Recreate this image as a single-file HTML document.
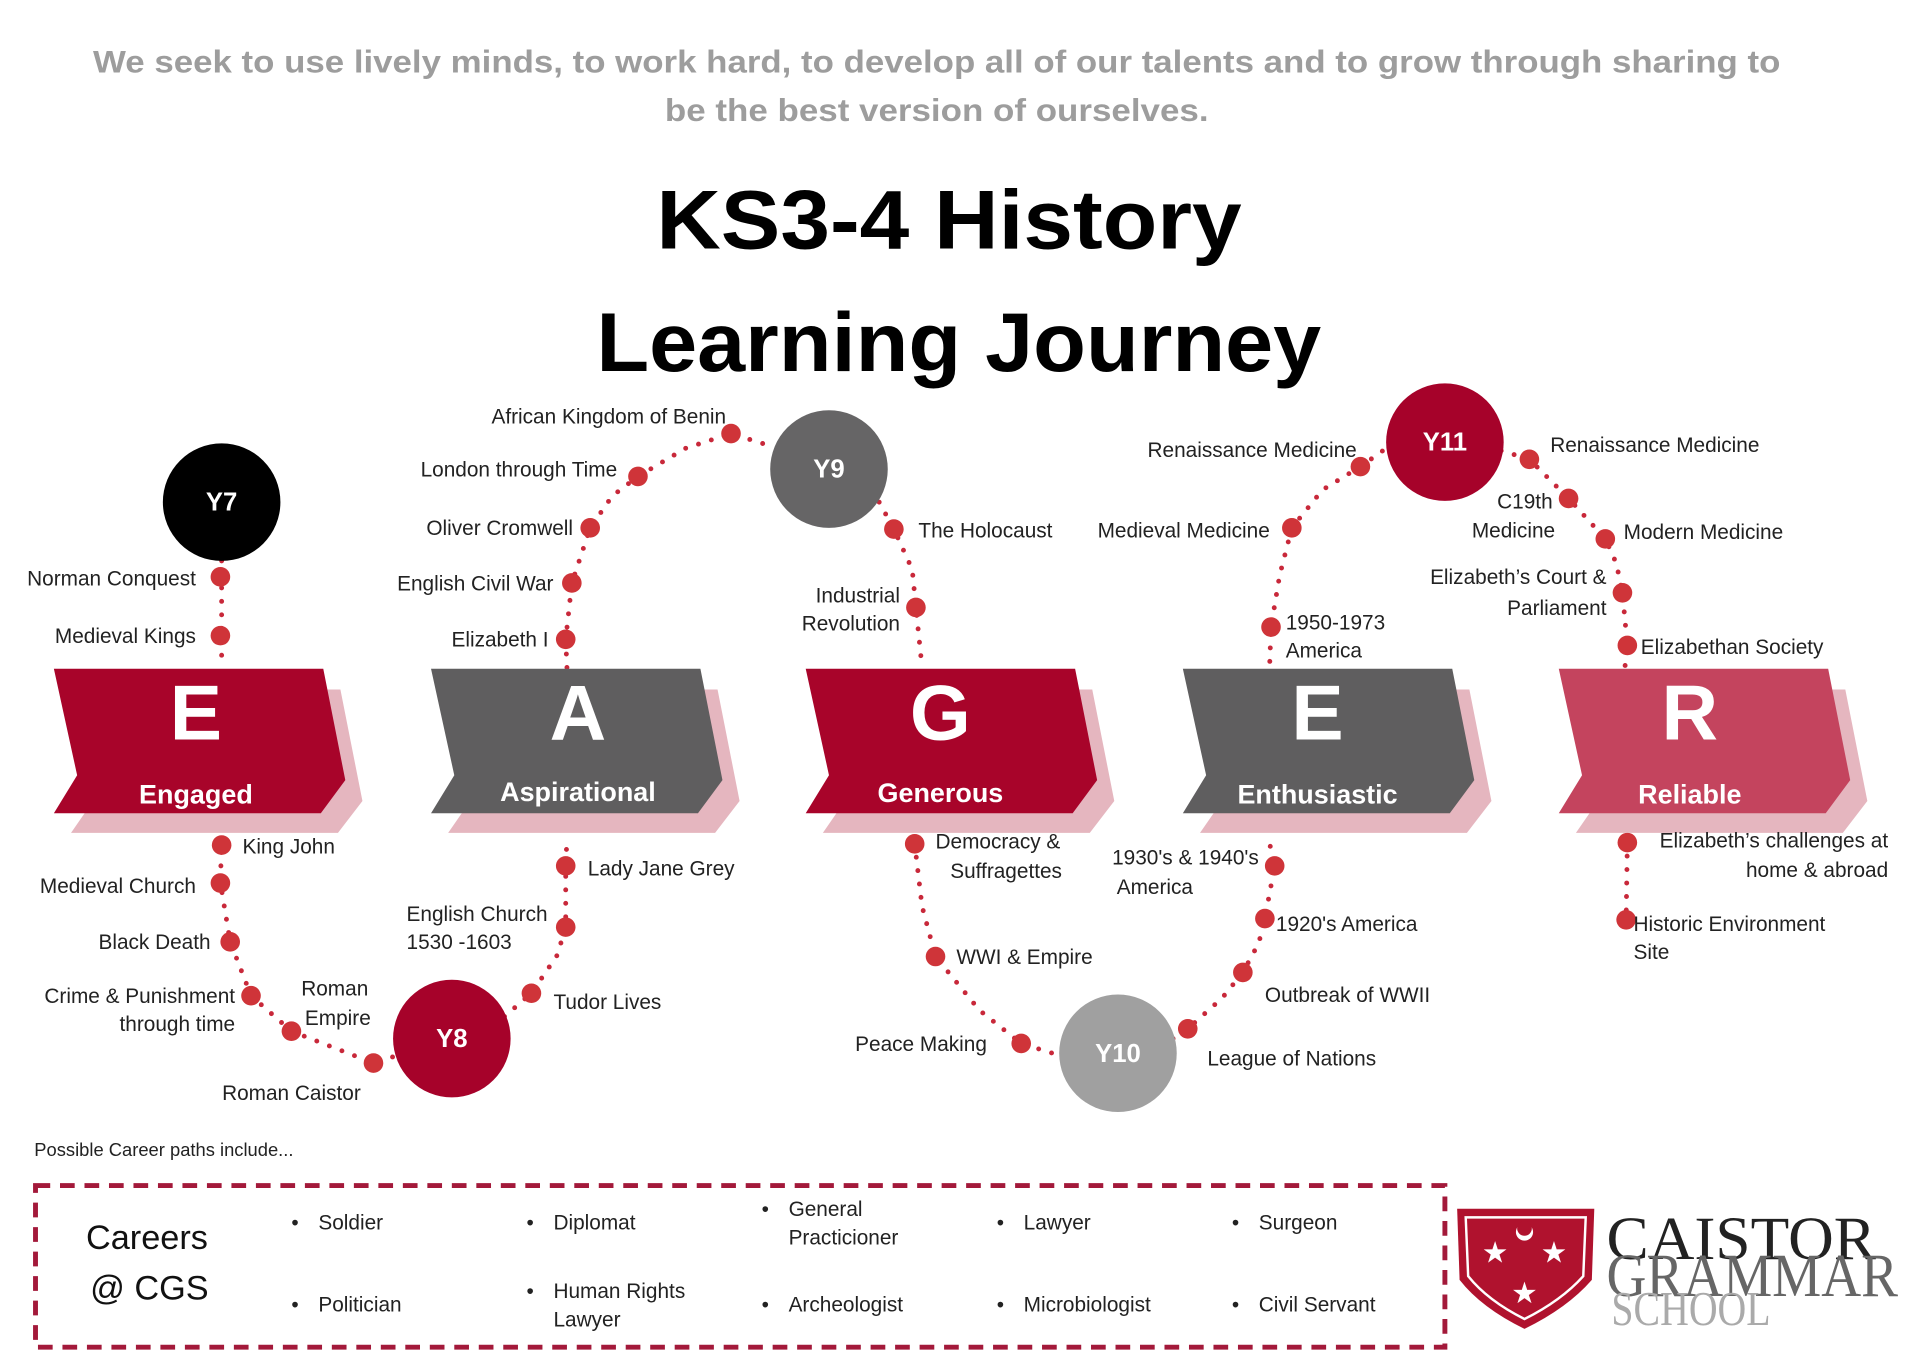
<!DOCTYPE html>
<html><head><meta charset="utf-8"><style>
html,body{margin:0;padding:0;background:#fff;}
svg{display:block;}
text{font-family:"Liberation Sans",sans-serif;}
.l{font-size:17px;fill:#222;}
.r{text-anchor:end;}
.c{text-anchor:middle;}
.d{fill:none;stroke:#c8283a;stroke-width:4;stroke-linecap:round;stroke-dasharray:0 11;}
.dot{fill:#cf3439;}
.serif{font-family:"Liberation Serif",serif;}
</style></head><body>
<svg width="1920" height="1357" viewBox="0 0 1568 1108" preserveAspectRatio="none" xmlns="http://www.w3.org/2000/svg">
<rect width="1568" height="1108" fill="#fff"/>
<text x="765" y="59" class="c" font-size="26" font-weight="bold" fill="#9d9d9d" textLength="1378" lengthAdjust="spacingAndGlyphs">We seek to use lively minds, to work hard, to develop all of our talents and to grow through sharing to</text>
<text x="765" y="99" class="c" font-size="26" font-weight="bold" fill="#9d9d9d" textLength="444" lengthAdjust="spacingAndGlyphs">be the best version of ourselves.</text>
<text x="775" y="203" class="c" font-size="68" font-weight="bold" fill="#000" textLength="478" lengthAdjust="spacingAndGlyphs">KS3-4 History</text>
<text x="783" y="303" class="c" font-size="68" font-weight="bold" fill="#000" textLength="592" lengthAdjust="spacingAndGlyphs">Learning Journey</text>

<path class="d" d="M181 458 L181 545"/>
<path class="d" d="M181 685 L180 721 L188 769 L205 813 L238 842 L305 868 L330 860"/>
<path class="d" d="M412 830 L434 811 L455 780 L462 757 L462 707 L463 685"/>
<path class="d" d="M463 545 L462 522 L467 476 L482 431 L500 405 L521 389 L560 366 L597 354 L632 365"/>
<path class="d" d="M718 410 L730 432 L745 465 L748 496 L753 545"/>
<path class="d" d="M747 689 L753 740 L764 781 L800 825 L834 852 L866 862"/>
<path class="d" d="M958 848 L970 840 L998 815 L1015 794 L1028 770 L1033 750 L1041 707 L1036 685"/>
<path class="d" d="M1037 540 L1038 512 L1045 470 L1055 431 L1080 400 L1111 381 L1135 364"/>
<path class="d" d="M1226 368 L1249 375 L1281 407 L1311 440 L1320 460 L1325 484 L1329 527 L1327 545"/>
<path class="d" d="M1329 688 L1328 751"/>

<g transform="translate(44,0)">
<path d="M14 563 L234 563 L252 654 L232 680 L14 680 L32 654 Z" fill="#e5b6bf"/>
<path d="M0 546 L220 546 L238 637 L218 664 L0 664 L19 633 Z" fill="#a8042a"/>
<text x="116" y="604" class="c" font-size="64" font-weight="bold" fill="#fff">E</text>
<text x="116" y="656" class="c" font-size="22" font-weight="bold" fill="#fff">Engaged</text>
</g>
<g transform="translate(352,0)">
<path d="M14 563 L234 563 L252 654 L232 680 L14 680 L32 654 Z" fill="#e5b6bf"/>
<path d="M0 546 L220 546 L238 637 L218 664 L0 664 L19 633 Z" fill="#5f5e5f"/>
<text x="120" y="604" class="c" font-size="64" font-weight="bold" fill="#fff">A</text>
<text x="120" y="654" class="c" font-size="22" font-weight="bold" fill="#fff">Aspirational</text>
</g>
<g transform="translate(658,0)">
<path d="M14 563 L234 563 L252 654 L232 680 L14 680 L32 654 Z" fill="#e5b6bf"/>
<path d="M0 546 L220 546 L238 637 L218 664 L0 664 L19 633 Z" fill="#a8042a"/>
<text x="110" y="604" class="c" font-size="64" font-weight="bold" fill="#fff">G</text>
<text x="110" y="655" class="c" font-size="22" font-weight="bold" fill="#fff">Generous</text>
</g>
<g transform="translate(966,0)">
<path d="M14 563 L234 563 L252 654 L232 680 L14 680 L32 654 Z" fill="#e5b6bf"/>
<path d="M0 546 L220 546 L238 637 L218 664 L0 664 L19 633 Z" fill="#5f5e5f"/>
<text x="110" y="604" class="c" font-size="64" font-weight="bold" fill="#fff">E</text>
<text x="110" y="656" class="c" font-size="22" font-weight="bold" fill="#fff">Enthusiastic</text>
</g>
<g transform="translate(1273,0)">
<path d="M14 563 L234 563 L252 654 L232 680 L14 680 L32 654 Z" fill="#e5b6bf"/>
<path d="M0 546 L220 546 L238 637 L218 664 L0 664 L19 633 Z" fill="#c4445e"/>
<text x="107" y="604" class="c" font-size="64" font-weight="bold" fill="#fff">R</text>
<text x="107" y="656" class="c" font-size="22" font-weight="bold" fill="#fff">Reliable</text>
</g>

<circle cx="181" cy="410" r="48" fill="#000"/><text x="181" y="417" class="c" font-size="21" font-weight="bold" fill="#fff">Y7</text>
<circle cx="369" cy="848" r="48" fill="#a6022a"/><text x="369" y="855" class="c" font-size="21" font-weight="bold" fill="#fff">Y8</text>
<circle cx="677" cy="383" r="48" fill="#666566"/><text x="677" y="390" class="c" font-size="21" font-weight="bold" fill="#fff">Y9</text>
<circle cx="913" cy="860" r="48" fill="#a0a0a0"/><text x="913" y="867" class="c" font-size="21" font-weight="bold" fill="#fff">Y10</text>
<circle cx="1180" cy="361" r="48" fill="#a6022a"/><text x="1180" y="368" class="c" font-size="21" font-weight="bold" fill="#fff">Y11</text>

<g class="dot">
<circle cx="180" cy="471" r="8"/><circle cx="180" cy="519" r="8"/>
<circle cx="181" cy="690" r="8"/><circle cx="180" cy="721" r="8"/><circle cx="188" cy="769" r="8"/><circle cx="205" cy="813" r="8"/><circle cx="238" cy="842" r="8"/><circle cx="305" cy="868" r="8"/>
<circle cx="434" cy="811" r="8"/><circle cx="462" cy="757" r="8"/><circle cx="462" cy="707" r="8"/>
<circle cx="462" cy="522" r="8"/><circle cx="467" cy="476" r="8"/><circle cx="482" cy="431" r="8"/><circle cx="521" cy="389" r="8"/><circle cx="597" cy="354" r="8"/>
<circle cx="730" cy="432" r="8"/><circle cx="748" cy="496" r="8"/>
<circle cx="747" cy="689" r="8"/><circle cx="764" cy="781" r="8"/><circle cx="834" cy="852" r="8"/>
<circle cx="970" cy="840" r="8"/><circle cx="1015" cy="794" r="8"/><circle cx="1033" cy="750" r="8"/><circle cx="1041" cy="707" r="8"/>
<circle cx="1038" cy="512" r="8"/><circle cx="1055" cy="431" r="8"/><circle cx="1111" cy="381" r="8"/>
<circle cx="1249" cy="375" r="8"/><circle cx="1281" cy="407" r="8"/><circle cx="1311" cy="440" r="8"/><circle cx="1325" cy="484" r="8"/><circle cx="1329" cy="527" r="8"/>
<circle cx="1329" cy="688" r="8"/><circle cx="1328" cy="751" r="8"/>
</g>

<g class="l">
<text x="160" y="478" class="r">Norman Conquest</text>
<text x="160" y="525" class="r">Medieval Kings</text>
<text x="198" y="697">King John</text>
<text x="160" y="729" class="r">Medieval Church</text>
<text x="172" y="775" class="r">Black Death</text>
<text x="192" y="819" class="r">Crime &amp; Punishment</text>
<text x="192" y="842" class="r">through time</text>
<text x="246" y="813">Roman</text>
<text x="249" y="837">Empire</text>
<text x="238" y="898" class="c">Roman Caistor</text>
<text x="452" y="824">Tudor Lives</text>
<text x="332" y="752">English Church</text>
<text x="332" y="775">1530 -1603</text>
<text x="480" y="715">Lady Jane Grey</text>
<text x="448" y="528" class="r">Elizabeth I</text>
<text x="452" y="482" class="r">English Civil War</text>
<text x="468" y="437" class="r">Oliver Cromwell</text>
<text x="504" y="389" class="r">London through Time</text>
<text x="593" y="346" class="r">African Kingdom of Benin</text>
<text x="750" y="439">The Holocaust</text>
<text x="735" y="492" class="r">Industrial</text>
<text x="735" y="515" class="r">Revolution</text>
<text x="764" y="693">Democracy &amp;</text>
<text x="776" y="717">Suffragettes</text>
<text x="781" y="787">WWI &amp; Empire</text>
<text x="806" y="858" class="r">Peace Making</text>
<text x="986" y="870">League of Nations</text>
<text x="1033" y="818">Outbreak of WWII</text>
<text x="1042" y="760">1920's America</text>
<text x="1028" y="706" class="r">1930's &amp; 1940's</text>
<text x="912" y="730">America</text>
<text x="1050" y="514">1950-1973</text>
<text x="1050" y="537">America</text>
<text x="1037" y="439" class="r">Medieval Medicine</text>
<text x="1108" y="373" class="r">Renaissance Medicine</text>
<text x="1266" y="369">Renaissance Medicine</text>
<text x="1268" y="415" class="r">C19th</text>
<text x="1236" y="439" class="c">Medicine</text>
<text x="1326" y="440">Modern Medicine</text>
<text x="1312" y="477" class="r">Elizabeth’s Court &amp;</text>
<text x="1312" y="502" class="r">Parliament</text>
<text x="1340" y="534">Elizabethan Society</text>
<text x="1542" y="692" class="r">Elizabeth’s challenges at</text>
<text x="1542" y="716" class="r">home &amp; abroad</text>
<text x="1334" y="760">Historic Environment</text>
<text x="1334" y="783">Site</text>
</g>

<text x="28" y="944" font-size="15" fill="#222">Possible Career paths include...</text>
<rect x="29" y="968" width="1151" height="132" fill="none" stroke="#a3193a" stroke-width="4" stroke-dasharray="12 8"/>
<text x="120" y="1020" class="c" font-size="28" fill="#111">Careers</text>
<text x="122" y="1061" class="c" font-size="28" fill="#111">@ CGS</text>
<g class="l">
<text x="238" y="1004">•</text><text x="260" y="1004">Soldier</text>
<text x="430" y="1004">•</text><text x="452" y="1004">Diplomat</text>
<text x="622" y="993">•</text><text x="644" y="993">General</text><text x="644" y="1016">Practicioner</text>
<text x="814" y="1004">•</text><text x="836" y="1004">Lawyer</text>
<text x="1006" y="1004">•</text><text x="1028" y="1004">Surgeon</text>
<text x="238" y="1071">•</text><text x="260" y="1071">Politician</text>
<text x="430" y="1060">•</text><text x="452" y="1060">Human Rights</text><text x="452" y="1083">Lawyer</text>
<text x="622" y="1071">•</text><text x="644" y="1071">Archeologist</text>
<text x="814" y="1071">•</text><text x="836" y="1071">Microbiologist</text>
<text x="1006" y="1071">•</text><text x="1028" y="1071">Civil Servant</text>
</g>

<path d="M1190 987 L1302 987 L1300 1045 Q1280 1068 1245 1085 Q1210 1068 1192 1045 Z" fill="#b0122e"/>
<path d="M1197 994 L1295 994 L1293 1042 Q1275 1062 1245 1077 Q1215 1062 1199 1042 Z" fill="none" stroke="#fff" stroke-width="2"/>
<circle cx="1245" cy="1006" r="7" fill="#fff"/><circle cx="1245" cy="1003" r="6" fill="#b0122e"/>
<text x="1221" y="1031" class="c" font-size="24" fill="#fff">★</text>
<text x="1269" y="1031" class="c" font-size="24" fill="#fff">★</text>
<text x="1245" y="1064" class="c" font-size="24" fill="#fff">★</text>
<text x="1312" y="1028" class="serif" font-size="50" fill="#222" textLength="220" lengthAdjust="spacingAndGlyphs">CAISTOR</text>
<text x="1312" y="1058" class="serif" font-size="50" fill="#666" textLength="238" lengthAdjust="spacingAndGlyphs">GRAMMAR</text>
<text x="1316" y="1082" class="serif" font-size="40" fill="#aaa" textLength="130" lengthAdjust="spacingAndGlyphs">SCHOOL</text>
</svg>
</body></html>
